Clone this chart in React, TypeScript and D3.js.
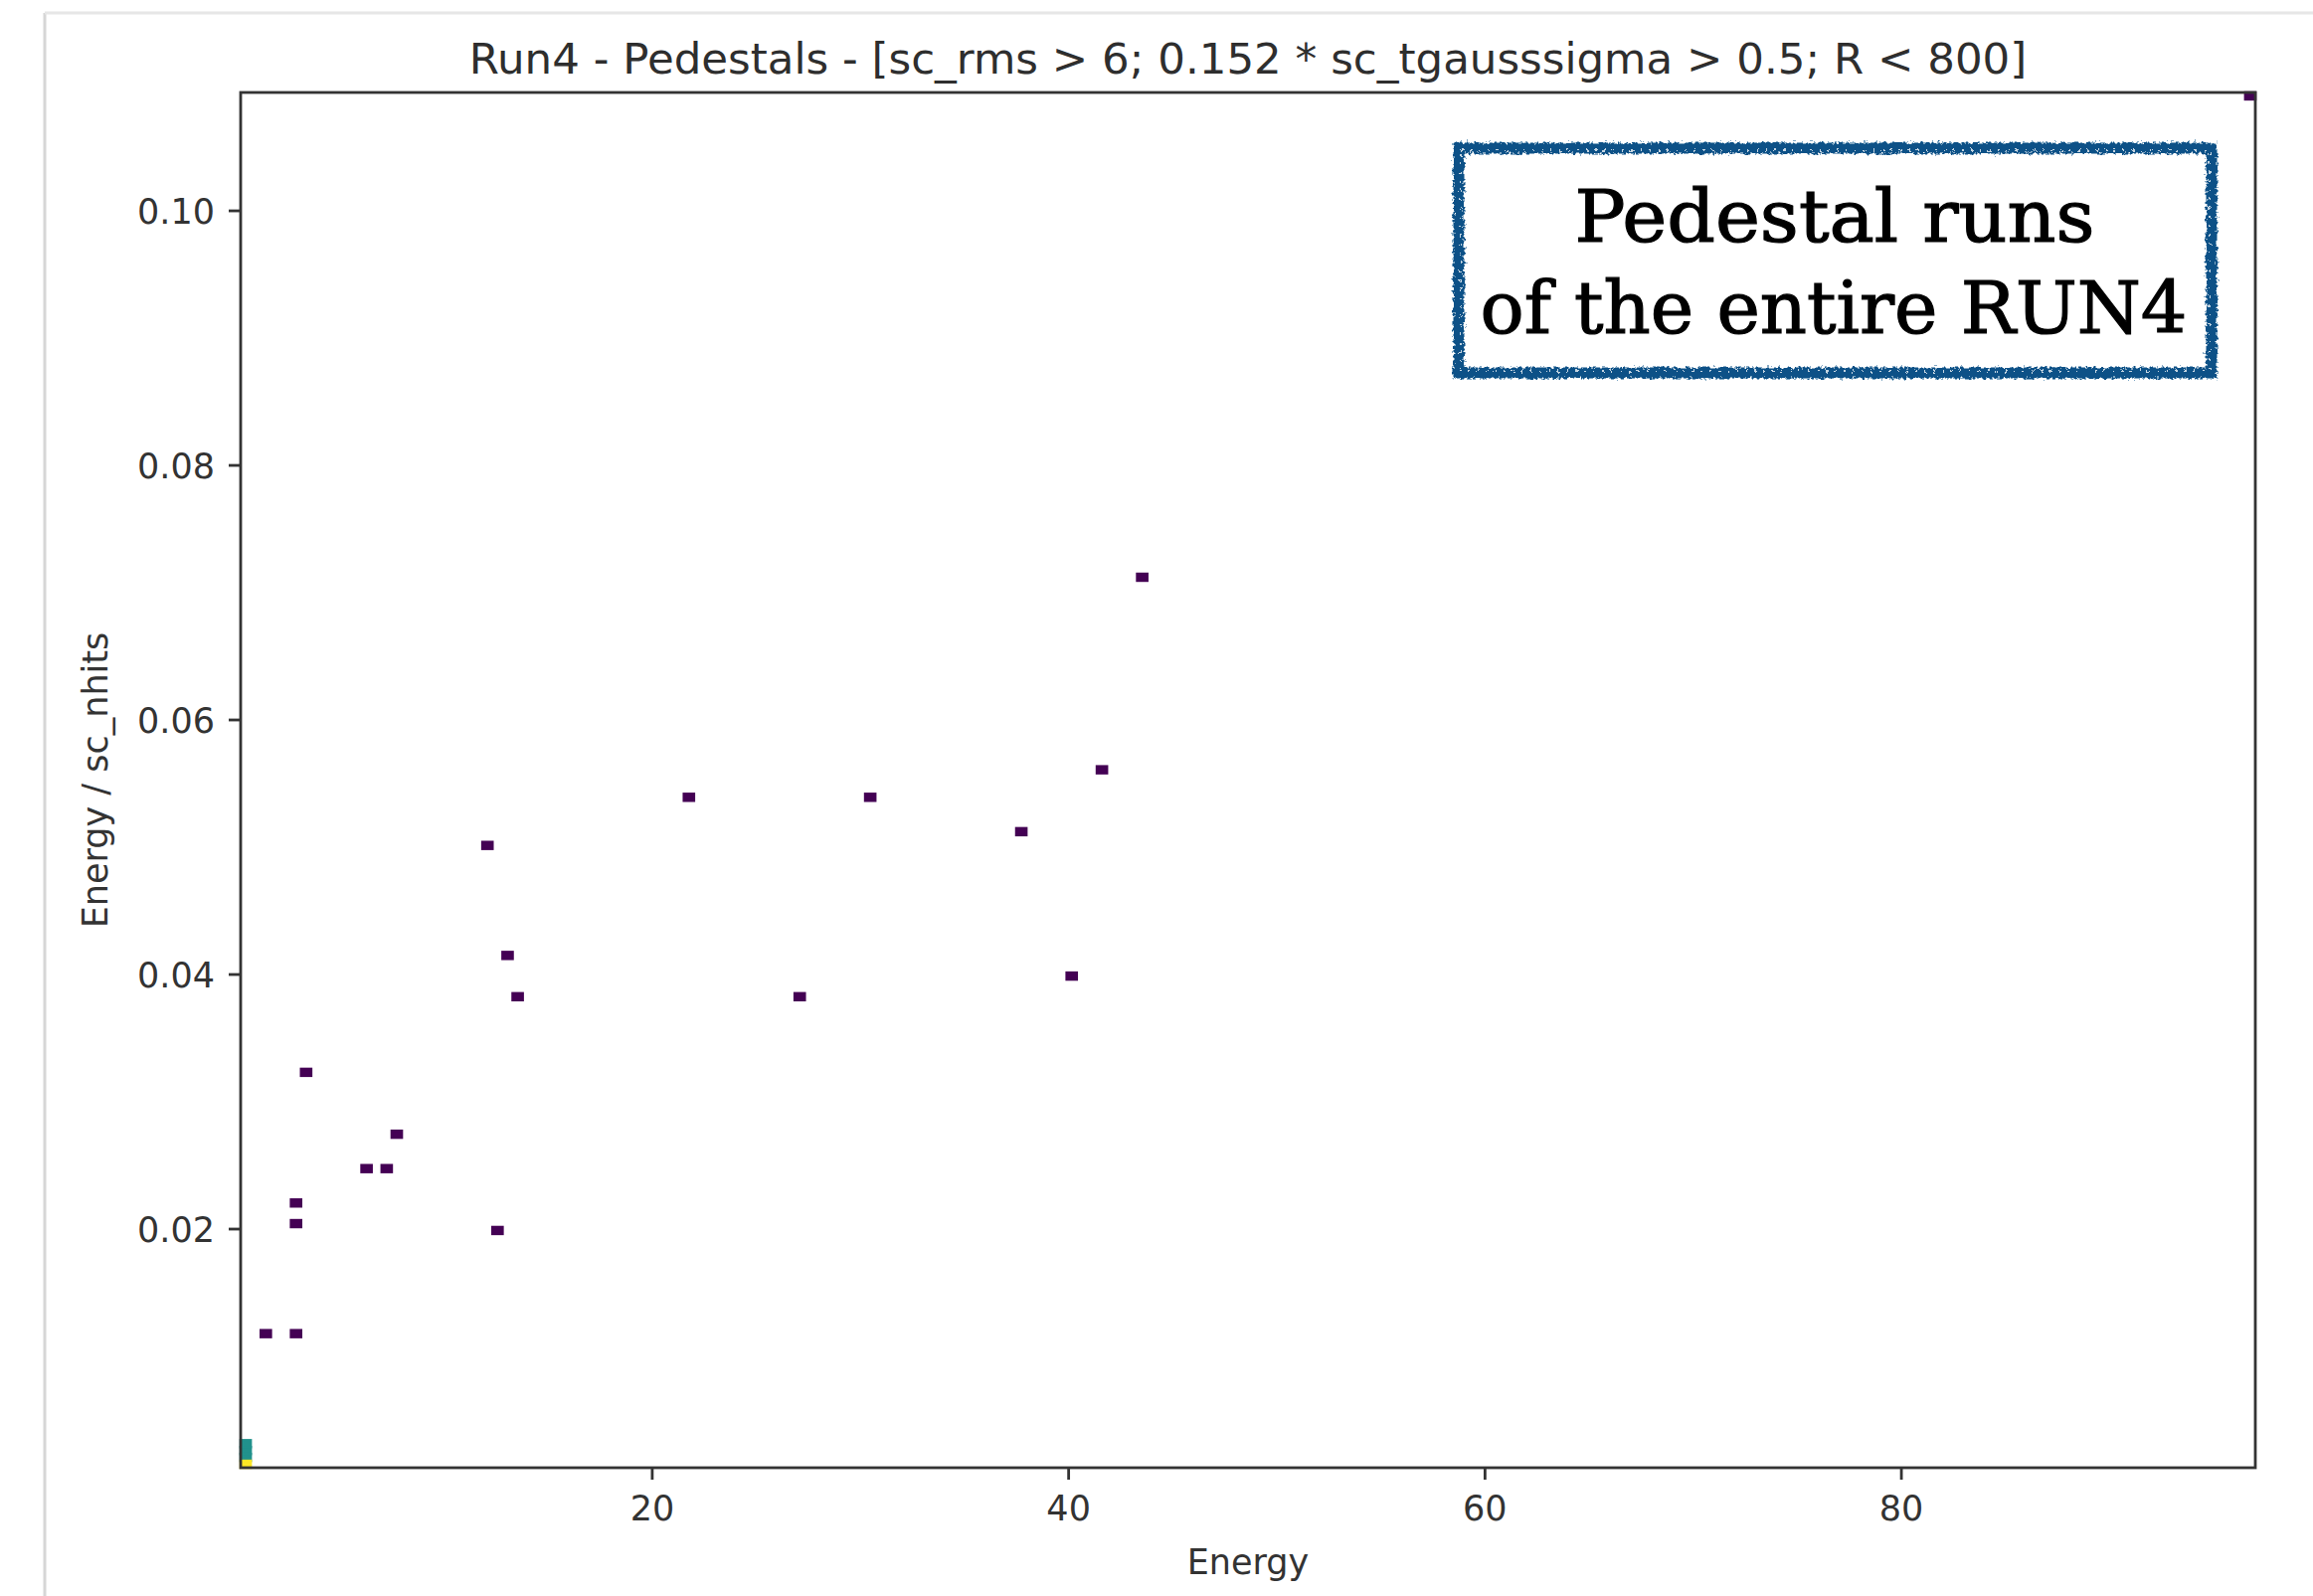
import React from "react";
import * as d3 from "d3";

// ---- data ----
const TITLE = "Run4 - Pedestals - [sc_rms > 6; 0.152 * sc_tgausssigma > 0.5; R < 800]";
const X_LABEL = "Energy";
const Y_LABEL = "Energy / sc_nhits";
const NOTE_LINES = ["Pedestal runs", "of the entire RUN4"];

const xExtent = [0.23, 97.0];
const yExtent = [0.00125, 0.1093];
const nBins = 200;

const energy = [0.3, 0.5, 0.5, 0.5, 1.36, 2.83, 2.83, 2.83, 3.28, 6.2, 7.27, 7.69, 11.98, 12.47, 12.99, 13.49, 21.66, 27.03, 30.41, 37.7, 40.13, 41.6, 43.5, 96.8];
const ratio = [0.0015, 0.0021, 0.0026, 0.0031, 0.01198, 0.01198, 0.02047, 0.02222, 0.03241, 0.02488, 0.02488, 0.02759, 0.05028, 0.01992, 0.04148, 0.03836, 0.05394, 0.03836, 0.05394, 0.0514, 0.04008, 0.05621, 0.07125, 0.1092];
const counts = [3, 2, 2, 2, 1, 1, 1, 1, 1, 1, 1, 1, 1, 1, 1, 1, 1, 1, 1, 1, 1, 1, 1, 1];

const xTicks = [20, 40, 60, 80];
const yTicks = [0.02, 0.04, 0.06, 0.08, 0.1];

const W = 2326;
const H = 1605;
const M = { left: 242, right: 2268, top: 93, bottom: 1476 };
const FONT = "'DejaVu Sans', sans-serif";

export default function App() {
  const x = d3.scaleLinear().domain(xExtent).range([M.left, M.right]);
  const y = d3.scaleLinear().domain(yExtent).range([M.bottom, M.top]);
  const color = d3.scaleSequential(d3.interpolateViridis).domain([1, d3.max(counts) as number]);
  const bw = (xExtent[1] - xExtent[0]) / nBins;
  const bh = (yExtent[1] - yExtent[0]) / nBins;

  const cells = energy
    .map((e, i) => {
      const ix = Math.max(0, Math.min(nBins - 1, Math.floor((e - xExtent[0]) / bw)));
      const iy = Math.max(0, Math.min(nBins - 1, Math.floor((ratio[i] - yExtent[0]) / bh)));
      const x0 = x(xExtent[0] + ix * bw);
      const x1 = x(xExtent[0] + (ix + 1) * bw);
      const y0 = y(yExtent[0] + iy * bh);
      const y1 = y(yExtent[0] + (iy + 1) * bh);
      return { x: x0, y: y1, w: x1 - x0, h: y0 - y1, n: counts[i], c: color(counts[i]) };
    })
    .sort((a, b) => a.n - b.n);

  const axisColor = "#333";
  const tickLen = 12;
  const sw = 2.8;

  // annotation box
  const box = { x0: 1467, y0: 149, x1: 2224, y1: 375 };
  const boxColor = "#0c5187";

  return (
    <svg width={W} height={H} style={{ position: "absolute", left: 0, top: 0, background: "#fff" }}>
      <defs>
        <filter id="rough" x="-5%" y="-5%" width="110%" height="110%">
          <feTurbulence type="fractalNoise" baseFrequency="0.35" numOctaves="2" seed="3" result="n" />
          <feDisplacementMap in="SourceGraphic" in2="n" scale="7" xChannelSelector="R" yChannelSelector="G" />
        </filter>
      </defs>
      <rect x={0} y={0} width={W} height={H} fill="#fff" />
      {/* outer notebook frame */}
      <line x1={45} y1={13} x2={45} y2={H} stroke="#d6d6d6" strokeWidth={3} />
      <line x1={45} y1={13} x2={W} y2={13} stroke="#e6e6e6" strokeWidth={3} />

      {/* title */}
      <text x={(M.left + M.right) / 2} y={74} textAnchor="middle" fontFamily={FONT} fontSize={43.5} fill="#2e2e2e">
        {TITLE}
      </text>

      {/* histogram cells */}
      {cells.map((c, i) => (
        <rect key={i} x={c.x} y={c.y} width={c.w} height={c.h} fill={c.c} stroke={c.c} strokeWidth={2.5} />
      ))}

      {/* spines */}
      <rect x={M.left} y={M.top} width={M.right - M.left} height={M.bottom - M.top} fill="none" stroke={axisColor} strokeWidth={sw} />

      {/* x ticks */}
      {xTicks.map((t) => (
        <g key={t}>
          <line x1={x(t)} x2={x(t)} y1={M.bottom} y2={M.bottom + tickLen} stroke={axisColor} strokeWidth={sw} />
          <text x={x(t)} y={1529} textAnchor="middle" fontFamily={FONT} fontSize={35} fill="#333">
            {t}
          </text>
        </g>
      ))}
      {/* y ticks */}
      {yTicks.map((t) => (
        <g key={t}>
          <line x1={M.left} x2={M.left - tickLen} y1={y(t)} y2={y(t)} stroke={axisColor} strokeWidth={sw} />
          <text x={216} y={y(t)} dy="0.36em" textAnchor="end" fontFamily={FONT} fontSize={35} fill="#333">
            {d3.format(".2f")(t)}
          </text>
        </g>
      ))}

      {/* axis labels */}
      <text x={(M.left + M.right) / 2} y={1583} textAnchor="middle" fontFamily={FONT} fontSize={35} fill="#333">
        {X_LABEL}
      </text>
      <text transform={`translate(108, ${(M.top + M.bottom) / 2}) rotate(-90)`} textAnchor="middle" fontFamily={FONT} fontSize={35} fill="#333">
        {Y_LABEL}
      </text>

      {/* annotation box */}
      <g filter="url(#rough)">
        <rect x={box.x0} y={box.y0} width={box.x1 - box.x0} height={box.y1 - box.y0} fill="#fff" stroke={boxColor} strokeWidth={11} />
        <rect x={box.x0 + 2} y={box.y0 + 2} width={box.x1 - box.x0 - 4} height={box.y1 - box.y0 - 4} fill="none" stroke="#fff" strokeWidth={1.5} strokeDasharray="2 7" />
      </g>
      <text x={1845} y={243} textAnchor="middle" fontFamily="'DejaVu Serif', serif" fontSize={72} textLength={523} lengthAdjust="spacingAndGlyphs" fill="#000" stroke="#000" strokeWidth={1.2}>
        {NOTE_LINES[0]}
      </text>
      <text x={1844} y={335} textAnchor="middle" fontFamily="'DejaVu Serif', serif" fontSize={72} textLength={711} lengthAdjust="spacingAndGlyphs" fill="#000" stroke="#000" strokeWidth={1.2}>
        {NOTE_LINES[1]}
      </text>
    </svg>
  );
}
